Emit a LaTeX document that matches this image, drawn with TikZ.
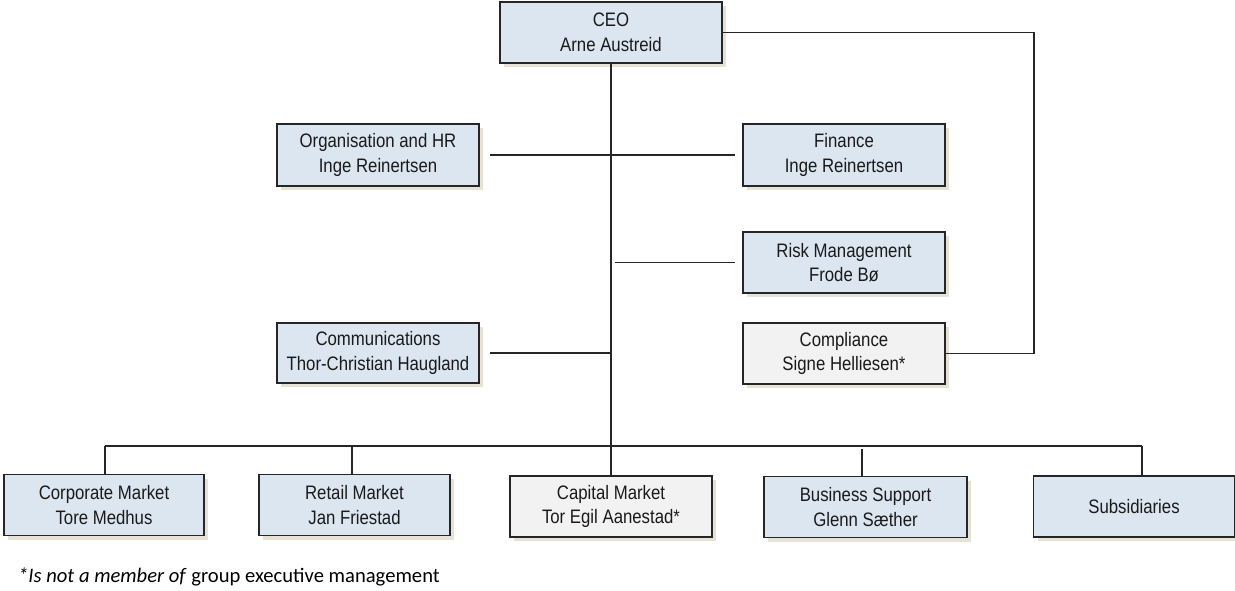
\documentclass[tikz,border=0pt]{standalone}
\usepackage{fontspec}
\setmainfont{Liberation Sans}[FakeStretch=0.86]
\newfontfamily\footfont{Carlito}
\usetikzlibrary{shadows}
\definecolor{boxblue}{HTML}{DCE6F1}
\definecolor{boxgray}{HTML}{F2F2F2}
\definecolor{shadowc}{HTML}{E6E2D6}
\definecolor{linec}{HTML}{262626}
\definecolor{textc}{HTML}{1A1A1A}
\tikzset{
  unit/.style={draw=linec, line width=1.3pt, minimum height=61pt, inner sep=0pt,
    align=center, text=textc, font=\fontsize{19.5}{24.5}\selectfont,
    drop shadow={shadow xshift=4pt, shadow yshift=-4pt, fill=shadowc, opacity=1, draw=none}},
  blueunit/.style={unit, fill=boxblue},
  grayunit/.style={unit, fill=boxgray},
  conn/.style={draw=linec, line width=1.2pt}
}
\begin{document}
\begin{tikzpicture}[x=1pt,y=-1pt]
\useasboundingbox (0,0) rectangle (1235,591);
% top
\node[blueunit, minimum width=222pt] (ceo) at (611,32.5) {CEO\\Arne Austreid};
\node[blueunit, minimum width=202pt, minimum height=62pt] (org) at (378,155) {Organisation and HR\\Inge Reinertsen};
\node[blueunit, minimum width=202pt, minimum height=62pt] (fin) at (844,155) {Finance\\Inge Reinertsen};
\node[blueunit, minimum width=202pt] (risk) at (844,262.5) {Risk Management\\Frode Bø};
\node[blueunit, minimum width=202pt, minimum height=60pt] (comm) at (378,353) {Communications\\Thor-Christian Haugland};
\node[grayunit, minimum width=202pt] (comp) at (844,353.5) {Compliance\\Signe Helliesen*};
% bottom row
\node[blueunit, minimum width=200pt] (corp) at (104,505) {Corporate Market\\Tore Medhus};
\node[blueunit, minimum width=191pt] (ret) at (354.5,505) {Retail Market\\Jan Friestad};
\node[grayunit, minimum width=202pt] (cap) at (611,506.5) {Capital Market\\Tor Egil Aanestad*};
\node[blueunit, minimum width=203pt] (bus) at (865.5,507) {Business Support\\Glenn Sæther};
\node[blueunit, minimum width=201pt] (sub) at (1134,506.5) {Subsidiaries};
% footnote
\node[anchor=base west, inner sep=0pt, text=black, font=\footfont\fontsize{20.6}{24}\selectfont] (note) at (18,582) {\textit{*Is not a member of} group executive management};
% coordinates
\coordinate (barl) at (105,446);
\coordinate (barr) at (1142,446);
\coordinate (rc) at (1034,353.5);
% connectors
\draw[conn] (ceo.south) -- (cap.north);
\draw[conn] (barl) -- (barr);
\draw[conn] (barl) -- (barl |- corp.north);
\draw[conn] (352,446) -- (352,0 |- ret.north);
\draw[conn] (862,449) -- (862,0 |- bus.north);
\draw[conn] (barr) -- (barr |- sub.north);
\draw[conn] ([xshift=10pt]org.east) -- ([xshift=-7pt]fin.west);
\draw[conn] ([xshift=4pt]ceo.south |- risk.west) -- ([xshift=-7pt]risk.west);
\draw[conn] ([xshift=10pt]comm.east) -- (ceo.south |- comm.east);
\draw[conn] (comp.east) -- (rc) |- (ceo.east);
\end{tikzpicture}
\end{document}
